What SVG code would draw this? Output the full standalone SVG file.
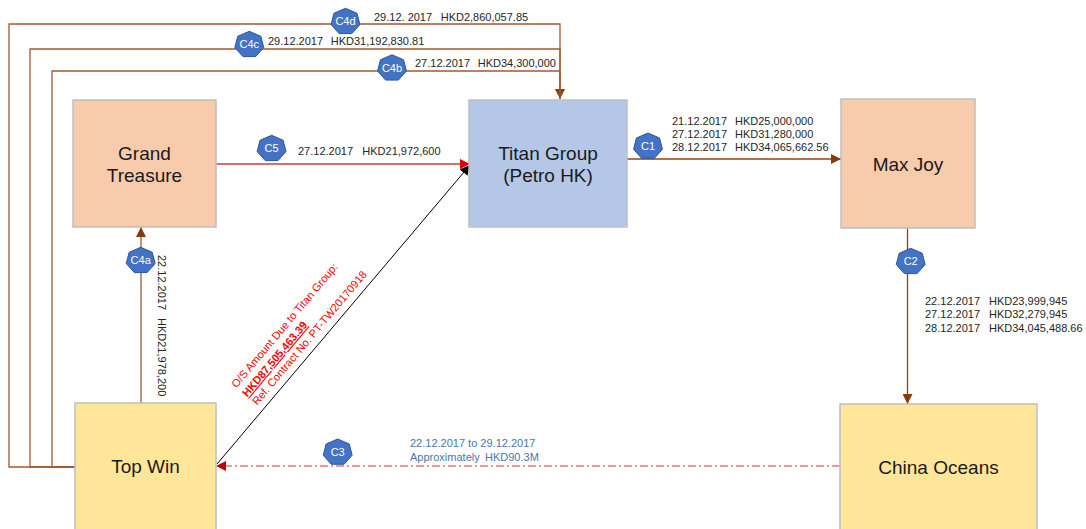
<svg xmlns="http://www.w3.org/2000/svg" width="1086" height="529" viewBox="0 0 1086 529">
<style>
  .node { stroke: #bfbfbf; stroke-width: 1.5; }
  .peach { fill: #f8cbad; }
  .blue { fill: #b4c7e7; }
  .yellow { fill: #ffe699; }
  .ntext { font-family: "Liberation Sans", Arial, sans-serif; font-size: 19px; fill: #1a1a1a; text-anchor: middle; }
  .lbl { font-family: "Liberation Sans", Arial, sans-serif; font-size: 11px; fill: #262626; }
  .blbl { font-family: "Liberation Sans", Arial, sans-serif; font-size: 11px; fill: #4a76ae; }
  .rlbl { font-family: "Liberation Sans", Arial, sans-serif; font-size: 11px; fill: #ff0000; }
  .hex { fill: #4472c4; stroke: #2f5597; stroke-width: 1; }
  .htext { font-family: "Liberation Sans", Arial, sans-serif; font-size: 11px; fill: #ffffff; text-anchor: middle; }
  .brown { fill: none; stroke: #9e5b33; stroke-width: 1.3; }
  .brown2 { fill: none; stroke: #8b4513; stroke-width: 1.3; }
</style>
<defs>
  <marker id="arrBrown" markerUnits="userSpaceOnUse" markerWidth="10" markerHeight="10" refX="10" refY="5" orient="auto">
    <path d="M0,0 L10,5 L0,10 z" fill="#843c0c"/>
  </marker>
  <marker id="arrRed" markerUnits="userSpaceOnUse" markerWidth="10" markerHeight="10" refX="10" refY="5" orient="auto">
    <path d="M0,0 L10,5 L0,10 z" fill="#e00000"/>
  </marker>
  <marker id="arrDarkRed" markerUnits="userSpaceOnUse" markerWidth="10" markerHeight="10" refX="10" refY="5" orient="auto">
    <path d="M0,0 L10,5 L0,10 z" fill="#c00000"/>
  </marker>
  <marker id="arrBlack" markerUnits="userSpaceOnUse" markerWidth="10" markerHeight="10" refX="10" refY="5" orient="auto">
    <path d="M0,0 L10,5 L0,10 z" fill="#000000"/>
  </marker>
  <polygon id="hept" points="0,-12.7 11.57,-7.69 14.43,3.56 6.42,12.58 -6.42,12.58 -14.43,3.56 -11.57,-7.69"/>
</defs>

<g id="connectors">
  <!-- C4b/C4c/C4d: Top Win -> Titan -->
  <path class="brown" d="M75,467 H9 V24 H560 V99" marker-end="url(#arrBrown)"/>
  <path class="brown" d="M75,467 H30 V49 H560 V99"/>
  <path class="brown" d="M75,467 H52 V71 H560 V99"/>
  <!-- C4a: Top Win -> Grand Treasure -->
  <path class="brown" d="M141,403 V227" marker-end="url(#arrBrown)"/>
  <!-- C5 -->
  <path d="M216,164 H470" fill="none" stroke="#c84040" stroke-width="1.3" marker-end="url(#arrRed)"/>
  <!-- C1 -->
  <path class="brown2" d="M627,159 H841" marker-end="url(#arrBrown)"/>
  <!-- C2 -->
  <path class="brown2" d="M907.5,228 V404" marker-end="url(#arrBrown)"/>
  <!-- diagonal -->
  <path d="M217,464 L470,165" fill="none" stroke="#000000" stroke-width="1" marker-end="url(#arrBlack)"/>
  <!-- C3 -->
  <path d="M840,466 H216" fill="none" stroke="#e03030" stroke-width="1.2" stroke-dasharray="8,3,2,3" marker-end="url(#arrDarkRed)"/>

  <!-- badges -->
  <g id="badge-C4d"><use href="#hept" class="hex" x="345.5" y="21"/><text class="htext" x="345.5" y="25">C4d</text></g>
  <g id="badge-C4c"><use href="#hept" class="hex" x="249.3" y="44"/><text class="htext" x="249.3" y="48">C4c</text></g>
  <g id="badge-C4b"><use href="#hept" class="hex" x="392" y="67.5"/><text class="htext" x="392" y="71.5">C4b</text></g>
  <g id="badge-C4a"><use href="#hept" class="hex" x="140.7" y="260"/><text class="htext" x="140.7" y="264">C4a</text></g>
  <g id="badge-C5"><use href="#hept" class="hex" x="271.6" y="148"/><text class="htext" x="271.6" y="152">C5</text></g>
  <g id="badge-C1"><use href="#hept" class="hex" x="648" y="145.7"/><text class="htext" x="648" y="149.7">C1</text></g>
  <g id="badge-C2"><use href="#hept" class="hex" x="910.7" y="261"/><text class="htext" x="910.7" y="265">C2</text></g>
  <g id="badge-C3"><use href="#hept" class="hex" x="337.7" y="451.7"/><text class="htext" x="337.7" y="455.7">C3</text></g>

  <!-- labels -->
  <text class="lbl" y="21"><tspan x="374">29.12. 2017</tspan><tspan x="440.7">HKD2,860,057.85</tspan></text>
  <text class="lbl" y="45"><tspan x="268">29.12.2017</tspan><tspan x="330.7">HKD31,192,830.81</tspan></text>
  <text class="lbl" y="67"><tspan x="415">27.12.2017</tspan><tspan x="477.7">HKD34,300,000</tspan></text>
  <text class="lbl" y="155"><tspan x="298">27.12.2017</tspan><tspan x="362.3">HKD21,972,600</tspan></text>
  <text class="lbl">
    <tspan x="672" y="124.5">21.12.2017</tspan><tspan x="735" y="124.5">HKD25,000,000</tspan>
    <tspan x="672" y="137.7">27.12.2017</tspan><tspan x="735" y="137.7">HKD31,280,000</tspan>
    <tspan x="672" y="150.7">28.12.2017</tspan><tspan x="735" y="150.7">HKD34,065,662.56</tspan>
  </text>
  <text class="lbl">
    <tspan x="925" y="305">22.12.2017</tspan><tspan x="989" y="305">HKD23,999,945</tspan>
    <tspan x="925" y="318">27.12.2017</tspan><tspan x="989" y="318">HKD32,279,945</tspan>
    <tspan x="925" y="331.5">28.12.2017</tspan><tspan x="989" y="331.5">HKD34,045,488.66</tspan>
  </text>
  <text class="lbl" transform="translate(158,255) rotate(90)"><tspan x="0" y="0">22.12.2017</tspan><tspan x="63" y="0">HKD21,978,200</tspan></text>
  <text class="blbl"><tspan x="410" y="447">22.12.2017 to 29.12.2017</tspan><tspan x="410" y="461">Approximately</tspan><tspan x="485" y="461">HKD90.3M</tspan></text>
  <g transform="translate(236.6,388.5) rotate(-50)">
    <text class="rlbl" x="0" y="0">O/S Amount  Due to Titan Group:</text>
    <text class="rlbl" x="0" y="14" font-weight="bold" text-decoration="underline">HKD87,505,463.39</text>
    <text class="rlbl" x="0" y="27">Ref. Contract No. PT-TW20170918</text>
  </g>
</g>

<g id="node-grand-treasure">
  <rect class="node peach" x="73" y="100" width="143" height="127"/>
  <text class="ntext" x="144.5" y="160">Grand</text>
  <text class="ntext" x="144.5" y="182">Treasure</text>
</g>
<g id="node-titan">
  <rect class="node blue" x="469" y="100" width="158" height="127"/>
  <text class="ntext" x="548" y="160">Titan Group</text>
  <text class="ntext" x="548" y="182">(Petro HK)</text>
</g>
<g id="node-max-joy">
  <rect class="node peach" x="841" y="99" width="134" height="129"/>
  <text class="ntext" x="908" y="171">Max Joy</text>
</g>
<g id="node-top-win">
  <rect class="node yellow" x="75" y="403" width="141" height="130"/>
  <text class="ntext" x="145.5" y="473">Top Win</text>
</g>
<g id="node-china-oceans">
  <rect class="node yellow" x="840" y="404" width="197" height="130"/>
  <text class="ntext" x="938.5" y="474">China Oceans</text>
</g>
</svg>
